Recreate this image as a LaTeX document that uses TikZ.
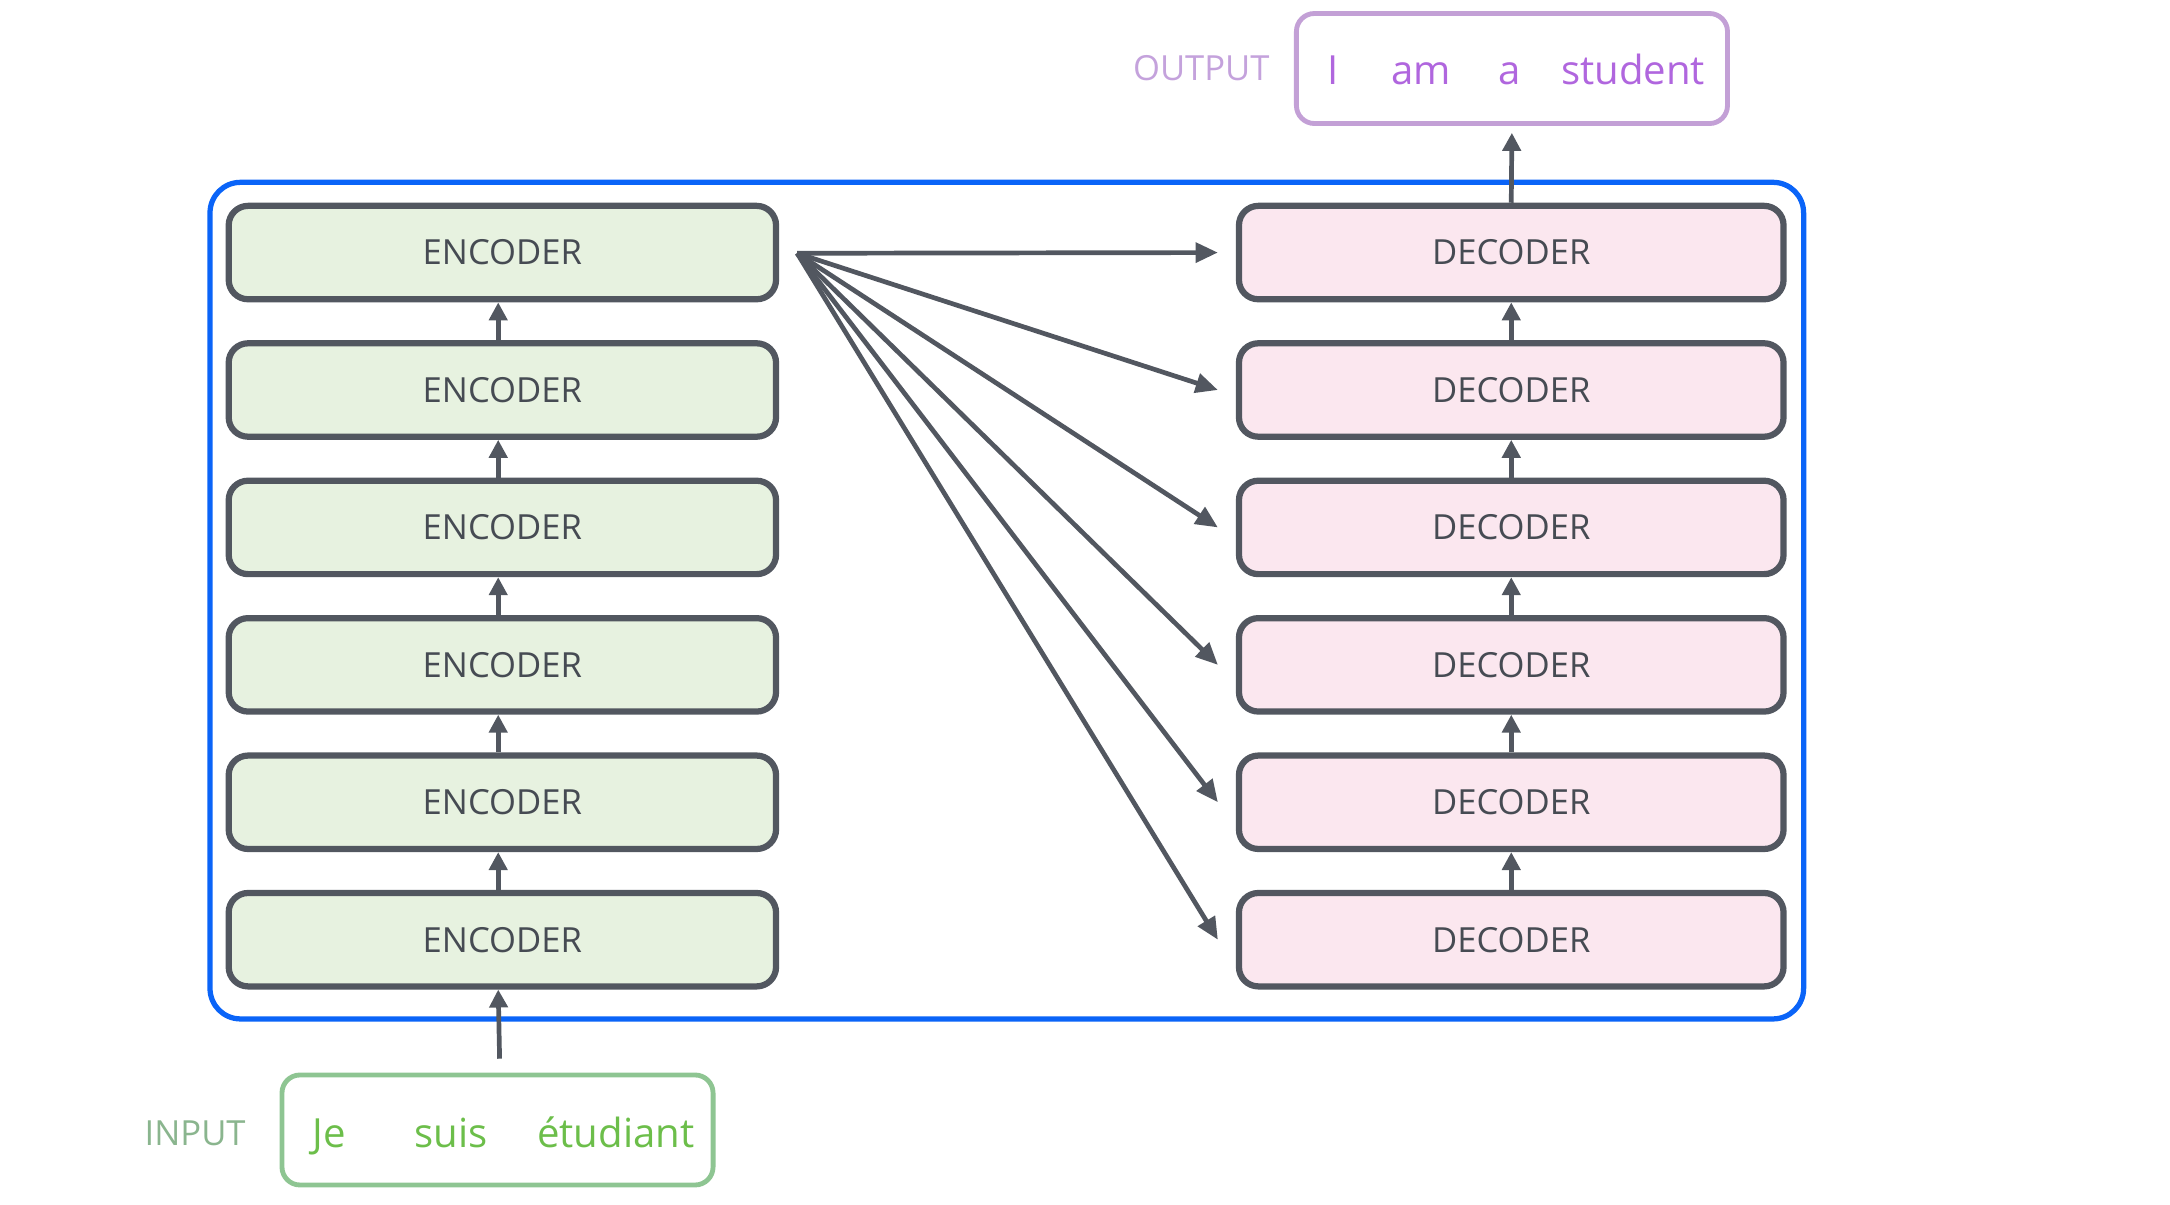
\documentclass[tikz,border=0pt]{standalone}
\usepackage{fontspec}
\setmainfont{Open Sans}
\usetikzlibrary{arrows.meta}
\definecolor{boxline}{HTML}{525760}
\definecolor{boxtext}{HTML}{464B53}
\definecolor{encfill}{HTML}{E7F2E0}
\definecolor{decfill}{HTML}{FBE7EF}
\definecolor{frameblue}{HTML}{0A64F8}
\definecolor{inline}{HTML}{8EC592}
\definecolor{inword}{HTML}{6CBE4A}
\definecolor{inlabel}{HTML}{8AB58E}
\definecolor{outline}{HTML}{C3A0D6}
\definecolor{outword}{HTML}{B066DE}
\definecolor{outlabel}{HTML}{C4A2DC}
\tikzset{
  layer/.style={draw=boxline, line width=4.5pt, rounded corners=14pt,
    minimum height=67.5pt, text=boxtext, font=\fontsize{25}{29}\selectfont},
  encbox/.style={layer, fill=encfill, minimum width=395.5pt},
  decbox/.style={layer, fill=decfill, minimum width=393.5pt},
  seqbox/.style={line width=3.5pt, rounded corners=13pt,
    minimum width=311.5pt, minimum height=79.5pt},
  word/.style={anchor=base, font=\fontsize{29}{33}\selectfont},
  seqlabel/.style={anchor=base, font=\fontsize{25}{30}\selectfont},
  uparrow/.style={draw=boxline, line width=3.4pt,
    -{Triangle[length=13pt,width=13pt]}},
  fanarrow/.style={draw=boxline, line width=3.4pt,
    -{Triangle[length=16pt,width=14pt]}}
}
\begin{document}
\begin{tikzpicture}[x=1pt,y=-1pt]
\useasboundingbox (0,0) rectangle (1568,870);

% outer frame around the stacks
\node[draw=frameblue, line width=3.8pt, rounded corners=22pt,
  minimum width=1151.5pt, minimum height=604.5pt] (frame) at (727.5,434) {};

% encoder and decoder stacks
\foreach \i [evaluate=\i as \y using 182.5+99.3*(\i-1)] in {1,...,6} {
  \node[encbox] (enc\i) at (363,\y) {ENCODER};
  \node[decbox] (dec\i) at (1092,\y) {DECODER};
}

% arrows inside each stack
\foreach \i [evaluate=\i as \j using int(\i+1)] in {1,...,5} {
  \draw[uparrow] ([xshift=-3pt]enc\j.north) -- ([xshift=-3pt]enc\i.south);
  \draw[uparrow] (dec\j.north) -- (dec\i.south);
}

% encoder output fanned out to every decoder
\coordinate (src) at (576,183);
\foreach \i in {1,...,6}
  \draw[fanarrow] (src) -- ([xshift=-13pt]dec\i.west);

% input sequence
\node[seqbox, draw=inline] (inbox) at (359.5,816.5) {};
\node[seqlabel, text=inlabel] (inlab) at (141,828) {INPUT};
\node[word, text=inword] (w1) at (238,829) {Je};
\node[word, text=inword] (w2) at (326,829) {suis};
\node[word, text=inword] (w3) at (445,829) {étudiant};
\coordinate (instart) at (361,765);
\draw[uparrow] (instart) -- ([xshift=-3pt]enc6.south);

% output sequence
\node[seqbox, draw=outline] (outbox) at (1092.5,49.5) {};
\node[seqlabel, text=outlabel] (outlab) at (868,58) {OUTPUT};
\node[word, text=outword] (o1) at (963,61) {I};
\node[word, text=outword] (o2) at (1027,61) {am};
\node[word, text=outword] (o3) at (1091,61) {a};
\node[word, text=outword] (o4) at (1180,61) {student};
\draw[uparrow, shorten >=5pt] (dec1.north) -- (outbox.south);
\end{tikzpicture}
\end{document}
